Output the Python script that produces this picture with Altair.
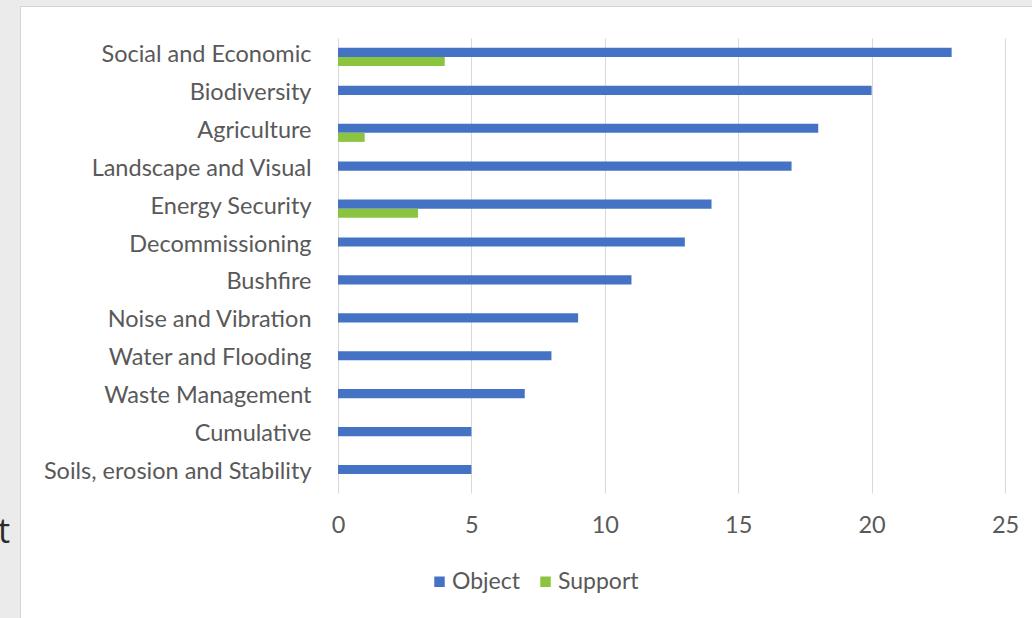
import altair as alt
import pandas as pd

categories = [
    "Social and Economic", "Biodiversity", "Agriculture", "Landscape and Visual\u00a0",
    "Energy Security", "Decommissioning", "Bushfire", "Noise and Vibration\u00a0",
    "Water and Flooding", "Waste Management", "Cumulative", "Soils, erosion and Stability",
]
object_values = [23, 20, 18, 17, 14, 13, 11, 9, 8, 7, 5, 5]
support_values = [4, 0, 1, 0, 3, 0, 0, 0, 0, 0, 0, 0]
series = ["Object", "Support"]
colors = ["#4472C4", "#8BC540"]
x_ticks = [0, 5, 10, 15, 20, 25]

rows = []
for c, o, s in zip(categories, object_values, support_values):
    rows.append({"Category": c, "Series": "Object", "Value": o})
    rows.append({"Category": c, "Series": "Support", "Value": s})
df = pd.DataFrame(rows)

W, H = 667, 455
LEFT, TOP = 338, 38
FONT = "Lato"
TXT = "#595959"
FS = 23.5

bars = alt.Chart(df).mark_bar().encode(
    y=alt.Y("Category:N", sort=categories, title=None,
            scale=alt.Scale(paddingInner=0.52, paddingOuter=0.26),
            axis=alt.Axis(domain=False, ticks=False, labelPadding=27, labelOffset=-2,
                          labelFontSize=FS, labelColor=TXT, labelFont=FONT,
                          labelLimit=400)),
    yOffset=alt.YOffset("Series:N", sort=series),
    x=alt.X("Value:Q", title=None,
            scale=alt.Scale(domain=[0, 25], nice=False),
            axis=alt.Axis(values=x_ticks, domain=False, ticks=False, grid=True,
                          gridColor="#d9d9d9", labelPadding=20, labelFontSize=FS,
                          labelFlush=False,
                          labelColor=TXT, labelFont=FONT)),
    color=alt.Color("Series:N", sort=series,
                    scale=alt.Scale(domain=series, range=colors),
                    legend=alt.Legend(title=None, orient="none", direction="horizontal",
                                      legendX=90, legendY=532, symbolType="square",
                                      symbolSize=110, symbolStrokeWidth=0,
                                      labelFontSize=23, labelColor=TXT, labelFont=FONT,
                                      columnPadding=14, labelOffset=1)),
)

one = pd.DataFrame({"a": [0]})
left_strip = alt.Chart(one).mark_rect(color="#ebebeb").encode(
    x=alt.value(-LEFT), x2=alt.value(20 - LEFT), y=alt.value(-TOP), y2=alt.value(618 - TOP))
top_strip = alt.Chart(one).mark_rect(color="#ebebeb").encode(
    x=alt.value(-LEFT), x2=alt.value(1032 - LEFT), y=alt.value(-TOP), y2=alt.value(6 - TOP))
edge_v = alt.Chart(one).mark_rule(color="#d4d4d4", strokeWidth=1).encode(
    x=alt.value(20.5 - LEFT), y=alt.value(6 - TOP), y2=alt.value(618 - TOP))
edge_h = alt.Chart(one).mark_rule(color="#d4d4d4", strokeWidth=1).encode(
    x=alt.value(20 - LEFT), x2=alt.value(1032 - LEFT), y=alt.value(6.5 - TOP))
stray = alt.Chart(pd.DataFrame({"t": ["t"]})).mark_text(
    fontSize=34, font="Open Sans", color="#2b2b2b", align="left", baseline="alphabetic"
).encode(text="t:N", x=alt.value(-LEFT - 2), y=alt.value(543 - TOP))

chart = alt.layer(left_strip, top_strip, edge_v, edge_h, stray, bars).properties(
    width=W, height=H,
    autosize=alt.AutoSizeParams(type="none"),
    padding={"left": LEFT, "top": TOP, "right": 1032 - LEFT - W, "bottom": 618 - TOP - H},
    background="white",
).configure_view(stroke=None)

chart.save("out.html", embed_options={"renderer": "svg", "actions": False})
